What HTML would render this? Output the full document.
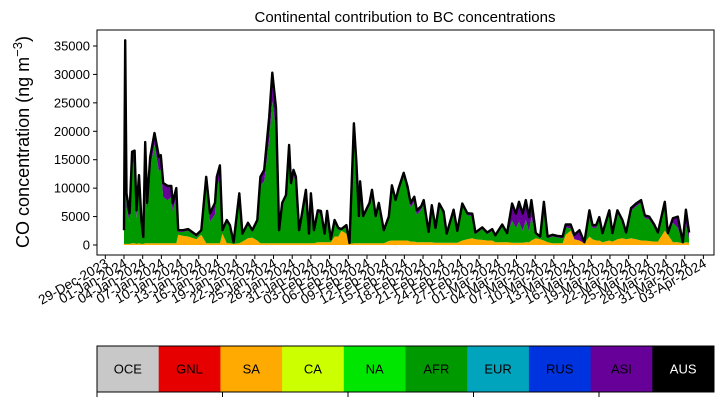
<!DOCTYPE html>
<html><head><meta charset="utf-8"><style>
body{margin:0;background:#fff;}
svg{display:block;font-family:"Liberation Sans","DejaVu Sans",sans-serif;}
</style></head><body>
<svg id="c" width="725" height="402"></svg>
<script>
const days=[0,0.2,0.4,0.9,1.3,1.7,2.0,2.4,2.8,3.1,3.4,3.7,4.2,4.9,5.6,5.9,6.3,7.0,7.6,7.8,8.4,8.7,9.5,10.3,11.6,12.4,13.2,13.8,14.6,14.9,15.4,15.8,16.5,17.0,17.6,18.5,19.0,19.9,20.6,21.4,21.9,22.5,23.3,23.8,24.4,24.9,25.4,26.0,26.5,26.8,27.2,27.6,28.1,28.5,29.2,29.7,30.0,30.5,31.1,31.6,32.2,32.6,33.2,33.8,34.4,34.9,35.7,36.2,36.9,37.3,37.7,37.9,38.4,39.0,39.4,39.8,40.4,40.9,41.7,42.5,43.0,43.6,44.1,44.9,45.5,46.0,46.6,47.0,47.7,48.1,48.9,49.4,50.0,50.6,51.3,51.8,52.9,53.5,54.3,55.1,55.9,56.4,57.5,58.3,59.1,59.6,60.7,61.5,62.3,62.9,63.4,64.0,64.5,65.0,65.4,66.1,66.8,67.4,68.0,68.8,69.6,70.4,70.9,71.7,72.3,73.1,73.9,74.7,75.2,75.8,76.3,76.8,77.9,78.4,79.2,80.0,80.6,81.4,82.2,83.0,83.6,84.3,85.1,85.7,86.8,87.3,88.1,88.9,89.7,90.2,90.7];
const total=[2600,36000,9100,5600,16400,16600,6100,12300,4400,1400,18100,7400,15500,19700,15500,15800,10900,10400,10400,7400,10000,2600,2600,2800,1760,2600,12000,5600,7400,12000,14000,2600,4400,3500,500,9100,2000,3900,2600,4400,12000,13200,22500,30300,24100,2600,7400,8800,17600,10900,13200,12000,2600,5100,9700,2000,9100,2600,6100,6000,2000,6000,1000,4400,3000,2800,3500,350,21400,14500,5100,11200,5100,6500,7400,9700,5100,7400,2600,5000,10500,7900,10000,12700,10300,7400,8500,6100,6800,7900,2300,7000,3000,7300,5900,2000,6200,2500,7300,5600,5500,2200,3100,2200,2800,1700,3600,2100,7300,5500,7600,5500,7900,4900,7900,2100,1500,7600,1500,1800,1600,1500,3600,3600,1800,2600,500,6100,3500,3500,4900,2100,6100,2100,6100,4400,2200,6500,7300,7900,5200,5000,3600,2200,7600,2100,4700,5000,500,6200,2200];
const saVals=[200,200,200,200,300,300,200,300,200,200,300,300,300,300,300,300,300,300,300,300,300,1800,1600,1500,1000,1800,300,300,300,300,300,2000,300,300,200,300,600,1200,1300,800,300,300,300,300,300,300,300,300,300,300,300,300,300,300,300,300,300,300,500,500,500,500,500,1500,1500,2500,2000,200,300,300,300,300,300,300,300,300,300,300,300,700,800,800,800,800,800,600,600,500,500,500,500,500,400,400,400,400,400,400,800,1000,1200,1000,900,800,800,500,500,500,400,400,400,400,500,500,800,1200,1000,800,500,300,300,300,1800,2500,1000,800,300,1500,1000,800,800,500,800,600,1000,1200,1000,1200,1000,800,800,700,600,600,2500,1800,500,500,300,500,400];
const asiVals=[300,500,2500,1500,2000,2000,1500,2000,1500,400,2000,1500,2000,2000,2500,2500,2500,2500,2000,1500,1500,300,300,300,300,300,2000,1500,2000,2000,2000,300,300,300,100,500,200,300,300,300,1500,2000,4000,5000,4000,300,500,500,1000,800,1000,800,300,500,500,300,500,300,500,500,300,500,200,400,300,200,300,100,1000,800,500,800,500,500,500,800,500,500,300,400,500,500,500,500,800,800,800,800,600,600,300,400,300,400,400,300,400,300,400,400,400,300,300,300,300,300,400,300,3000,2500,3500,3000,3500,2500,3000,300,300,500,300,300,300,300,500,700,800,1800,200,500,500,500,500,300,500,300,500,500,300,500,500,500,500,500,500,300,500,300,800,2000,200,2500,1200];
const yTicks=[0,5000,10000,15000,20000,25000,30000,35000];
const regions=["OCE","GNL","SA","CA","NA","AFR","EUR","RUS","ASI","AUS"];
const regionColors=["#c8c8c8","#e60000","#ffaa00","#ccff00","#00e600","#009900","#00a5bd","#0033e0","#660099","#000000"];

const NS="http://www.w3.org/2000/svg";
const svg=document.getElementById('c');
function mk(t,a,p){const e=document.createElementNS(NS,t);for(const k in a)e.setAttribute(k,a[k]);(p||svg).appendChild(e);return e;}
const X0=124,PX_DAY=6.23;
const xs=d=>X0+d*PX_DAY;
const ys=v=>245-v/5000*28.43;

function area(lo,hi,color,name){
  let d="M"+xs(days[0])+","+ys(hi[0]);
  for(let i=1;i<days.length;i++)d+="L"+xs(days[i]).toFixed(1)+","+ys(hi[i]).toFixed(1);
  for(let i=days.length-1;i>=0;i--)d+="L"+xs(days[i]).toFixed(1)+","+ys(lo[i]).toFixed(1);
  const p=mk('path',{d:d+"Z",fill:color,stroke:"none"});
  
  
}
const zero=days.map(()=>0);
const afrTop=total.map((t,i)=>Math.max(saVals[i],t-asiVals[i]));
area(zero,saVals,"#ffaa00","area-sa");
area(saVals,afrTop,"#009900","area-afr");
area(afrTop,total,"#660099","area-asi");
let ld="";
for(let i=0;i<days.length;i++)ld+=(i?"L":"M")+xs(days[i]).toFixed(1)+","+ys(total[i]).toFixed(1);
const line=mk('path',{d:ld,fill:"none",stroke:"#000","stroke-width":2.4,"stroke-linejoin":"round"});



const fr=mk('rect',{x:97,y:30,width:617,height:225,fill:"none",stroke:"#000","stroke-width":1});



yTicks.forEach(v=>{
  const y=ys(v);
  mk('line',{x1:93,x2:97,y1:y,y2:y,stroke:"#000"});
  const t=mk('text',{x:90,y:y+4.5,"text-anchor":"end","font-size":13});
  t.textContent=v;
  
  
});
const mon=["Jan","Feb","Mar","Apr","May","Jun","Jul","Aug","Sep","Oct","Nov","Dec"];
const start=Date.UTC(2023,11,29);
for(let i=0;i<33;i++){
  const d=-3+i*3, x=xs(d);
  mk('line',{x1:x,x2:x,y1:255,y2:259,stroke:"#000"});
  const dt=new Date(start+i*3*86400000);
  const lbl=String(dt.getUTCDate()).padStart(2,'0')+"-"+mon[dt.getUTCMonth()]+"-"+dt.getUTCFullYear();
  const t=mk('text',{x:x+4,y:266,"text-anchor":"end","font-size":13.5,transform:`rotate(-30 ${x+4} 266)`});
  t.textContent=lbl;
  
  
}
const ti=mk('text',{x:405,y:22,"text-anchor":"middle","font-size":15});
ti.textContent="Continental contribution to BC concentrations";


const yt=mk('text',{x:0,y:0,"text-anchor":"middle","font-size":18,transform:"translate(29,142) rotate(-90)"});
yt.innerHTML='CO concentration (ng m<tspan font-size="13" dy="-7">−3</tspan><tspan dy="7">)</tspan>';



const cw=617/regions.length;
regions.forEach((r,i)=>{
  const g=mk('g',{});
  
  
  mk('rect',{x:97+i*cw,y:346,width:cw+0.5,height:46,fill:regionColors[i]},g);
  const t=mk('text',{x:97+i*cw+cw/2,y:373.5,"text-anchor":"middle","font-size":13,fill:r==="AUS"?"#fff":"#000"},g);
  t.textContent=r;
});
const cb=mk('rect',{x:97,y:346,width:617,height:46,fill:"none",stroke:"#000"});


for(let i=0;i<5;i++){const x=97+i*125.5;mk('line',{x1:x,x2:x,y1:392,y2:397,stroke:"#000"});}
</script>
</body></html>
